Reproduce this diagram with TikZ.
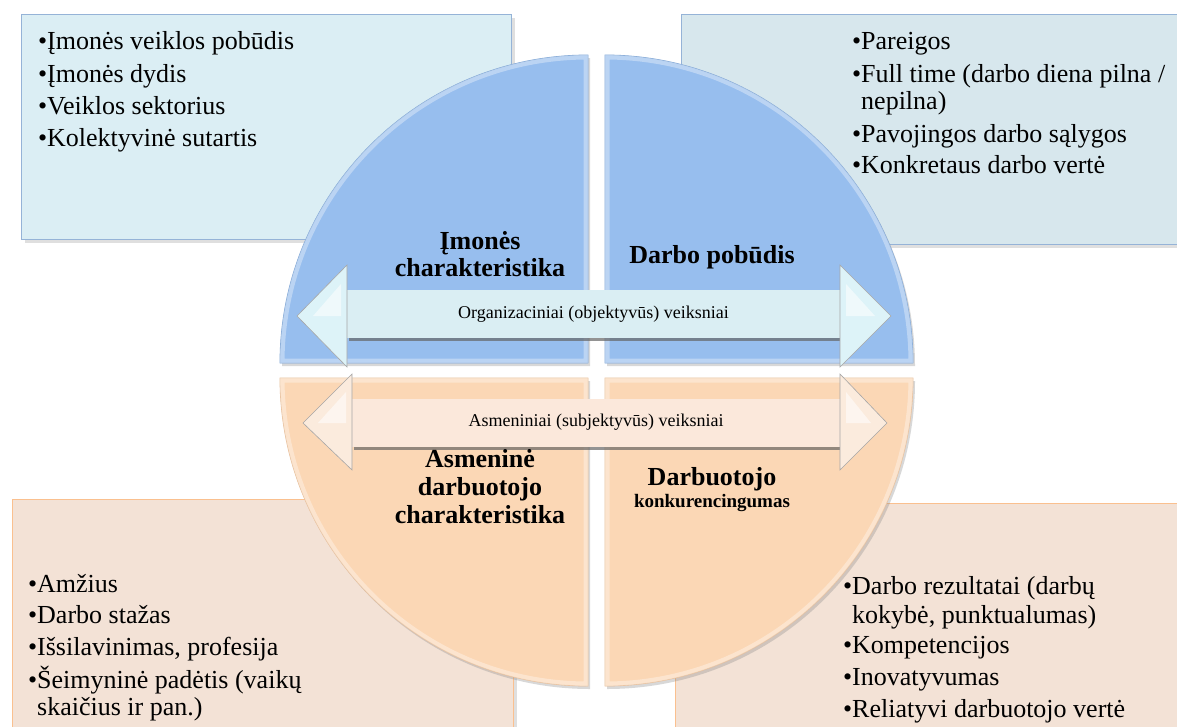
\documentclass[tikz,border=0pt]{standalone}
\usepackage{fontspec}
\setmainfont{Liberation Serif}
\usetikzlibrary{shadows}
\definecolor{qblue}{HTML}{97BEEE}
\definecolor{qblueedge}{HTML}{7FA6D6}
\definecolor{qpeach}{HTML}{FBD7B5}
\definecolor{qpeachedge}{HTML}{E8BE98}
\definecolor{tlfill}{HTML}{DBEEF4}
\definecolor{trfill}{HTML}{D7E7ED}
\definecolor{topborder}{HTML}{95B3D7}
\definecolor{botfill}{HTML}{F3E2D6}
\definecolor{botborder}{HTML}{FAC08F}
\definecolor{shafttop}{HTML}{DAEEF3}
\definecolor{shaftbot}{HTML}{FBE8DB}
\definecolor{headtop}{HTML}{DDF3F8}
\definecolor{headbot}{HTML}{FBEBDD}
\begin{document}
\begin{tikzpicture}[x=1pt,y=1pt,
  boxst/.style={rectangle, anchor=north west, line width=1.3pt, inner sep=0pt,
    drop shadow={shadow xshift=3pt, shadow yshift=-3pt, opacity=0.25}},
  quadtop/.style={fill=qblue, draw=qblueedge, line width=0.8pt,
    drop shadow={shadow xshift=2pt, shadow yshift=-3pt, opacity=0.3}},
  quadbot/.style={fill=qpeach, draw=qpeachedge, line width=0.8pt,
    drop shadow={shadow xshift=2pt, shadow yshift=-3pt, opacity=0.3}},
  bevel/.style={draw=white, opacity=0.35, line width=9pt},
  shaftst/.style={rectangle, inner sep=0pt, minimum height=48pt,
    font=\fontsize{18}{20}\selectfont,
    drop shadow={shadow xshift=1.5pt, shadow yshift=-3pt, fill=black!60, opacity=0.7}},
  headst/.style={draw=black!35, line width=0.6pt},
  glint/.style={fill=white, opacity=0.55, draw=none},
  item/.style={anchor=base west, inner sep=0pt, font=\fontsize{26}{32}\selectfont},
  qlabel/.style={anchor=base, inner sep=0pt, font=\bfseries\fontsize{26}{27}\selectfont},
  qsmall/.style={anchor=base, inner sep=0pt, font=\bfseries\fontsize{19}{20}\selectfont}]
\useasboundingbox (0,0) rectangle (1177,-726);
\fill[white] (0,0) rectangle (1177,-726);

% outer boxes
\node[boxst, fill=tlfill, draw=topborder, minimum width=490pt, minimum height=225pt] (tlbox) at (21,-14) {};
\node[boxst, fill=trfill, draw=topborder, minimum width=520pt, minimum height=230pt] (trbox) at (681,-14) {};
\node[boxst, fill=botfill, draw=botborder, minimum width=501pt, minimum height=260pt] (blbox) at (12,-499) {};
\node[boxst, fill=botfill, draw=botborder, minimum width=530pt, minimum height=260pt] (brbox) at (675,-503) {};

% quadrants
\path[quadtop] (588,-363) -- (280,-363) arc[start angle=180, end angle=90, radius=308pt] -- cycle;
\begin{scope}
\clip (588,-363) -- (280,-363) arc[start angle=180, end angle=90, radius=308pt] -- cycle;
\draw[bevel] (588,-363) -- (280,-363) arc[start angle=180, end angle=90, radius=308pt] -- cycle;
\end{scope}
\path[quadtop] (605,-363) -- (605,-55) arc[start angle=90, end angle=0, radius=308pt] -- cycle;
\begin{scope}
\clip (605,-363) -- (605,-55) arc[start angle=90, end angle=0, radius=308pt] -- cycle;
\draw[bevel] (605,-363) -- (605,-55) arc[start angle=90, end angle=0, radius=308pt] -- cycle;
\end{scope}
\path[quadbot] (588,-378) -- (280,-378) arc[start angle=180, end angle=270, radius=308pt] -- cycle;
\begin{scope}
\clip (588,-378) -- (280,-378) arc[start angle=180, end angle=270, radius=308pt] -- cycle;
\draw[bevel] (588,-378) -- (280,-378) arc[start angle=180, end angle=270, radius=308pt] -- cycle;
\end{scope}
\path[quadbot] (605,-378) -- (913,-378) arc[start angle=0, end angle=-90, radius=308pt] -- cycle;
\begin{scope}
\clip (605,-378) -- (913,-378) arc[start angle=0, end angle=-90, radius=308pt] -- cycle;
\draw[bevel] (605,-378) -- (913,-378) arc[start angle=0, end angle=-90, radius=308pt] -- cycle;
\end{scope}

% top double arrow
\node[shaftst, fill=shafttop, minimum width=493pt] (orgshaft) at (593.5,-314) {Organizaciniai (objektyvūs) veiksniai};
\coordinate (orgL) at (297,-316);
\coordinate (orgR) at (891,-316);
\path[headst, fill=headtop] (orgL) -- (347,-265) -- (347,-367) -- cycle;
\path[glint] (313,-316) -- (341,-284) -- (341,-316) -- cycle;
\path[headst, fill=headtop] (orgR) -- (840,-265) -- (840,-367) -- cycle;
\path[glint] (875,-316) -- (846,-284) -- (846,-316) -- cycle;

% bottom double arrow
\node[shaftst, fill=shaftbot, minimum width=488pt] (asmshaft) at (596,-422.5) {Asmeniniai (subjektyvūs) veiksniai};
\coordinate (asmL) at (303,-423);
\coordinate (asmR) at (887,-423);
\path[headst, fill=headbot] (asmL) -- (352,-374) -- (352,-470) -- cycle;
\path[glint] (318,-423) -- (346,-392) -- (346,-423) -- cycle;
\path[headst, fill=headbot] (asmR) -- (840,-374) -- (840,-470) -- cycle;
\path[glint] (871,-423) -- (846,-392) -- (846,-423) -- cycle;

% quadrant labels
\node[qlabel] (tlq1) at (480,-249) {Įmonės};
\node[qlabel] (tlq2) at (480,-276) {charakteristika};
\node[qlabel] (trq1) at (712,-263) {Darbo pobūdis};
\node[qlabel] (blq1) at (480,-467) {Asmeninė};
\node[qlabel] (blq2) at (480,-495) {darbuotojo};
\node[qlabel] (blq3) at (480,-523) {charakteristika};
\node[qlabel] (brq1) at (712,-485) {Darbuotojo};
\node[qsmall] (brq2) at (712,-507) {konkurencingumas};

% lists
\node[item] (tl1) at (47,-49) {\llap{\textbullet}Įmonės veiklos pobūdis};
\node[item] (tl2) at (47,-82) {\llap{\textbullet}Įmonės dydis};
\node[item] (tl3) at (47,-114) {\llap{\textbullet}Veiklos sektorius};
\node[item] (tl4) at (47,-146) {\llap{\textbullet}Kolektyvinė sutartis};

\node[item] (tr1) at (861,-49) {\llap{\textbullet}Pareigos};
\node[item] (tr2) at (861,-82) {\llap{\textbullet}Full time (darbo diena pilna /};
\node[item] (tr3) at (861,-109) {nepilna)};
\node[item] (tr4) at (861,-142) {\llap{\textbullet}Pavojingos darbo sąlygos};
\node[item] (tr5) at (861,-173) {\llap{\textbullet}Konkretaus darbo vertė};

\node[item] (bl1) at (37,-592) {\llap{\textbullet}Amžius};
\node[item] (bl2) at (37,-623) {\llap{\textbullet}Darbo stažas};
\node[item] (bl3) at (37,-655) {\llap{\textbullet}Išsilavinimas, profesija};
\node[item] (bl4) at (37,-688) {\llap{\textbullet}Šeimyninė padėtis (vaikų};
\node[item] (bl5) at (37,-715) {skaičius ir pan.)};

\node[item] (br1) at (852,-594) {\llap{\textbullet}Darbo rezultatai (darbų};
\node[item] (br2) at (852,-623) {kokybė, punktualumas)};
\node[item] (br3) at (852,-653) {\llap{\textbullet}Kompetencijos};
\node[item] (br4) at (852,-685) {\llap{\textbullet}Inovatyvumas};
\node[item] (br5) at (852,-717) {\llap{\textbullet}Reliatyvi darbuotojo vertė};
\end{tikzpicture}
\end{document}
